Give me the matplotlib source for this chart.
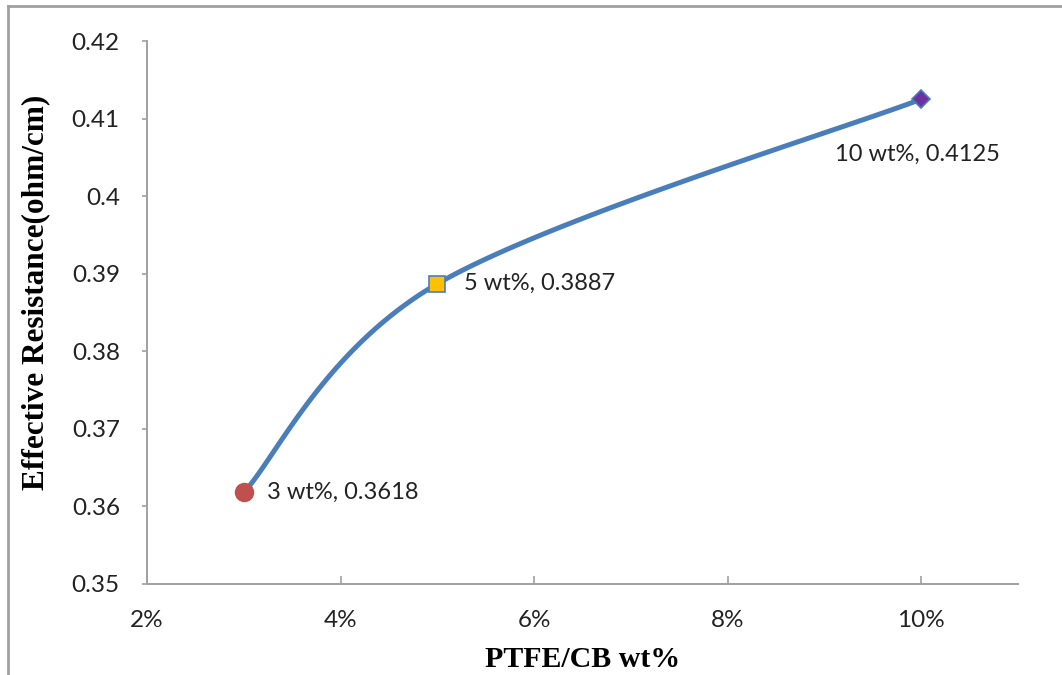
import numpy as np
import matplotlib

matplotlib.use("Agg")
import matplotlib.pyplot as plt
from matplotlib.lines import Line2D
from matplotlib.ticker import FuncFormatter

# data
wt = [3, 5, 10]  # PTFE/CB wt%
resistance = [0.3618, 0.3887, 0.4125]  # ohm/cm
labels = ["3 wt%, 0.3618", "5 wt%, 0.3887", "10 wt%, 0.4125"]

x_ticks = [2, 4, 6, 8, 10]
y_ticks = [0.35, 0.36, 0.37, 0.38, 0.39, 0.40, 0.41, 0.42]

line_col = "#4A7EBB"
axis_col = "#A0A0A0"
tick_font = "Lato"


def excel_smooth(xs, ys, n=60):
    # Excel-like smoothed line: cubic bezier with neighbour based control points
    P = np.column_stack([xs, ys]).astype(float)
    m = len(P)
    out = []
    for i in range(m - 1):
        p0 = P[i]
        p1 = P[i + 1]
        prev = P[i - 1] if i > 0 else P[i]
        nxt = P[i + 2] if i + 2 < m else P[i + 1]
        c1 = p0 + (p1 - prev) / 6
        c2 = p1 - (nxt - p0) / 6
        t = np.linspace(0, 1, n)[:, None]
        seg = (1 - t) ** 3 * p0 + 3 * (1 - t) ** 2 * t * c1 + 3 * (1 - t) * t ** 2 * c2 + t ** 3 * p1
        out.append(seg if i == 0 else seg[1:])
    out = np.vstack(out)
    return out[:, 0], out[:, 1]


fig = plt.figure(figsize=(10.62, 6.75), dpi=100)
ax = fig.add_axes([147 / 1062, 1 - 584 / 675, (1018 - 147) / 1062, (584 - 41) / 675])

sx, sy = excel_smooth(wt, resistance)
ax.plot(sx, sy, color=line_col, lw=3.6, solid_capstyle="round", zorder=2)

ax.plot(wt[0], resistance[0], "o", ms=13, mfc="#C0504D", mec="#C0504D", zorder=3)
ax.plot(wt[1], resistance[1], "s", ms=12, mfc="#FFC000", mec=line_col, mew=1.2, zorder=3)
ax.plot(wt[2], resistance[2], "D", ms=9, mfc="#7030A0", mec=line_col, mew=1.2, zorder=3)

lab_kw = dict(fontsize=17, fontfamily=tick_font, color="#222222")
ax.annotate(labels[0], (wt[0], resistance[0]), xytext=(17, 0), textcoords="offset points",
            ha="left", va="center", **lab_kw)
ax.annotate(labels[1], (wt[1], resistance[1]), xytext=(19, 0), textcoords="offset points",
            ha="left", va="center", **lab_kw)
ax.annotate(labels[2], (wt[2], resistance[2]), xytext=(-3, -40), textcoords="offset points",
            ha="center", va="center", **lab_kw)

ax.set_xlim(2, 11)
ax.set_ylim(0.35, 0.42)
ax.set_xticks(x_ticks)
ax.set_yticks(y_ticks)
ax.xaxis.set_major_formatter(FuncFormatter(lambda v, p: f"{v:.0f}%"))
ax.yaxis.set_major_formatter(FuncFormatter(lambda v, p: f"{v:.2f}".rstrip("0").rstrip(".")))

for s in ["top", "right"]:
    ax.spines[s].set_visible(False)
for s in ["left", "bottom"]:
    ax.spines[s].set_color(axis_col)
    ax.spines[s].set_linewidth(1.4)

ax.tick_params(axis="x", direction="in", length=5.5, width=1.2, color=axis_col, pad=19)
ax.tick_params(axis="y", direction="out", length=3.6, width=1.2, color=axis_col, pad=16)
for t in ax.get_xticklabels() + ax.get_yticklabels():
    t.set_fontfamily(tick_font)
    t.set_fontsize(17.5)
    t.set_color("#222222")

ax.set_xlabel("PTFE/CB wt%", fontfamily="Liberation Serif", fontweight="bold", fontsize=21.5)
ax.set_ylabel("Effective Resistance(ohm/cm)", fontfamily="Liberation Serif", fontweight="bold", fontsize=22.5)
ax.xaxis.set_label_coords(0.5, -0.114)
ax.yaxis.set_label_coords(-0.111, 0.537)

# outer chart frame (left and top edges visible)
fig.add_artist(Line2D([8 / 1062, 8 / 1062], [0, 1 - 6 / 675], color=axis_col, lw=2, transform=fig.transFigure))
fig.add_artist(Line2D([8 / 1062, 1], [1 - 6 / 675, 1 - 6 / 675], color=axis_col, lw=2, transform=fig.transFigure))

fig.savefig("out.png", dpi=100)
